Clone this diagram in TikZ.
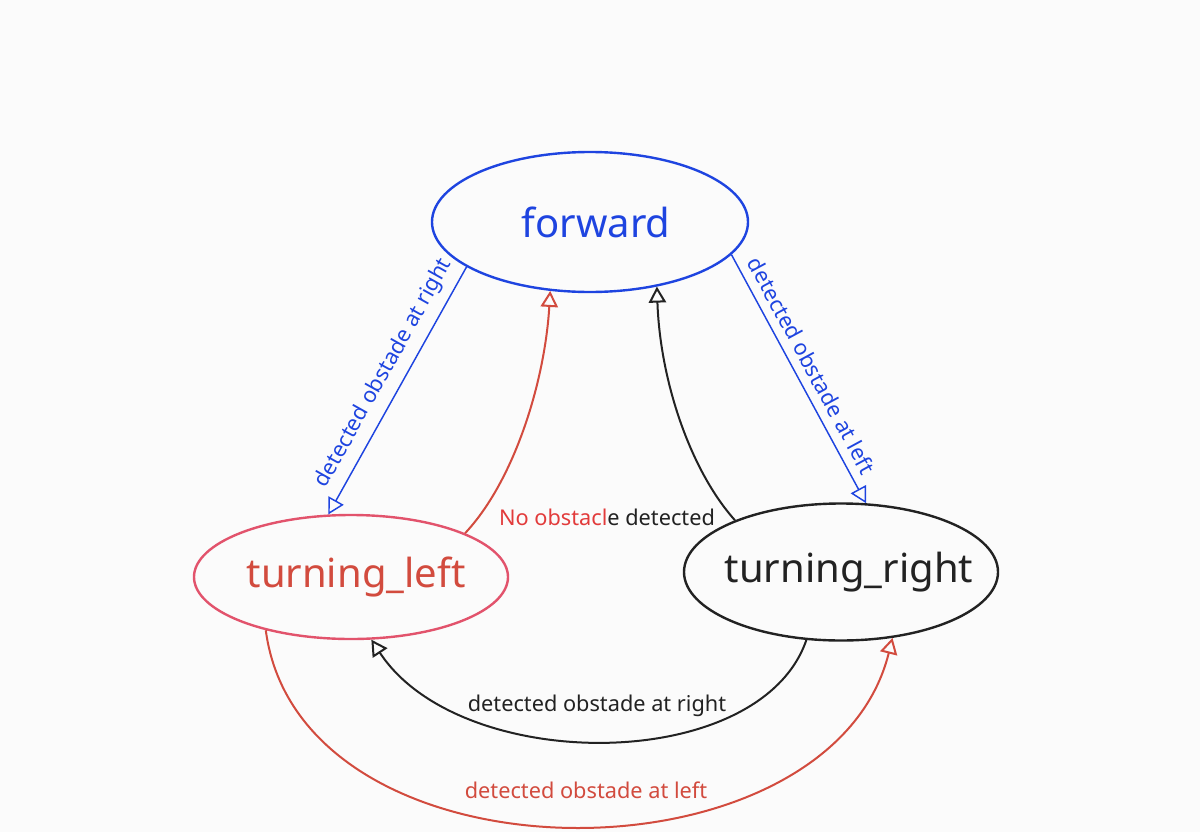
\documentclass[tikz,border=0pt]{standalone}
\usepackage{fontspec}
\setmainfont{Noto Sans}
\usetikzlibrary{arrows.meta,shapes.geometric}
\definecolor{bgc}{HTML}{FBFBFB}
\definecolor{fwblue}{HTML}{1E44E0}
\definecolor{tlred}{HTML}{D24B3E}
\definecolor{tlpink}{HTML}{E2536C}
\definecolor{nored}{HTML}{E23B3B}
\definecolor{dark}{HTML}{222222}
\begin{document}
\begin{tikzpicture}[x=0.75pt,y=-0.75pt,
  state/.style={ellipse, line width=1.8pt, inner sep=0pt, font=\fontsize{30}{34}\selectfont},
  lbl/.style={font=\fontsize{16.3}{19}\selectfont, inner sep=2.5pt},
  tip/.style={-{Triangle[open,length=12pt,width=13pt]}},
  thin/.style={line width=1.1pt},
  thick/.style={line width=1.5pt}]
\fill[bgc] (0,0) rectangle (1200,832);
\useasboundingbox (0,0) rectangle (1200,832);
\node[state, draw=fwblue, text=fwblue, minimum width=237pt, minimum height=105pt] (fw) at (590,222) {\makebox[0pt]{\kern9pt forward}};
\node[state, draw=tlpink, text=tlred, minimum width=235.5pt, minimum height=93pt] (tl) at (351,577) {\makebox[0pt]{\kern7.5pt turning\_left}};
\node[state, draw=dark, text=dark, minimum width=235.5pt, minimum height=102.75pt] (tr) at (841,572) {\makebox[0pt]{\kern12pt turning\_right}};
% blue straight edges
\draw[tip, thin, fwblue] (fw.200) -- node[lbl, pos=0.47, sloped, above=4pt, text=fwblue] {detected obstade at right} (tl.110.7);
\draw[tip, thin, fwblue] (fw.-13) -- node[lbl, pos=0.48, sloped, above=4pt, text=fwblue] {detected obstade at left} (tr.70.5);
% back to forward
\draw[tip, thick, tlred] (tl.21.6) .. controls (515,480) and (545,380) .. (fw.240.3);
\draw[tip, thick, dark] (tr.154) .. controls (690,470) and (660,380) .. (fw.-44);
\node[lbl] (nolbl) at (607,517) {\textcolor{nored}{No obstacl}\textcolor{dark}{e detected}};
% bottom curves
\draw[tip, thick, dark] (tr.243.8) .. controls (760,775) and (460,775) .. (tl.-72.4);
\node[lbl, text=dark] (rlbl) at (597,706) {detected obstade at right};
\draw[tip, thick, tlred] (tl.212) .. controls (300,890) and (830,890) .. (tr.-52.6);
\node[lbl, text=tlred] (llbl) at (586,790) {detected obstade at left};
\end{tikzpicture}
\end{document}
